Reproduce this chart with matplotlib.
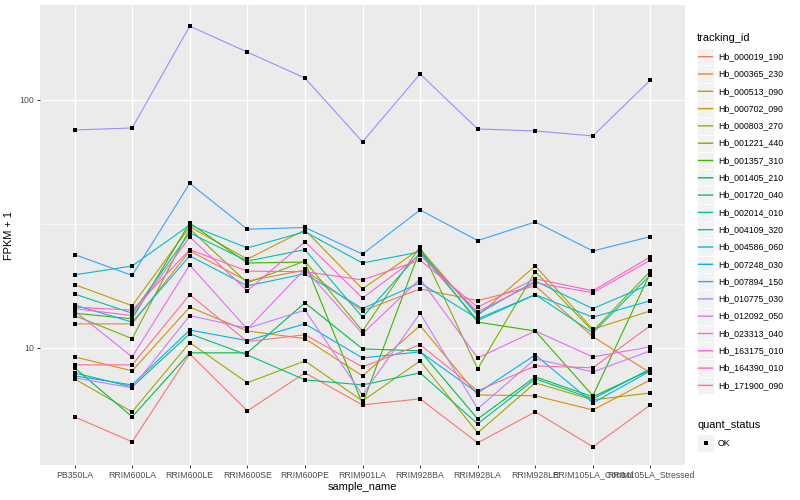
import matplotlib.pyplot as plt
from matplotlib.lines import Line2D
from matplotlib.patches import Rectangle
from matplotlib.ticker import NullLocator

plt.rcParams['font.family'] = ['Liberation Sans', 'DejaVu Sans']

samples = ['PB350LA', 'RRIM600LA', 'RRIM600LE', 'RRIM600SE', 'RRIM600PE', 'RRIM901LA',
           'RRIM928BA', 'RRIM928LA', 'RRIM928LE', 'RRIM105LA_Control', 'RRIM105LA_Stressed']

tracking_ids = ['Hb_000019_190', 'Hb_000365_230', 'Hb_000513_090', 'Hb_000702_090',
                'Hb_000803_270', 'Hb_001221_440', 'Hb_001357_310', 'Hb_001405_210',
                'Hb_001720_040', 'Hb_002014_010', 'Hb_004109_320', 'Hb_004586_060',
                'Hb_007248_030', 'Hb_007894_150', 'Hb_010775_030', 'Hb_012092_050',
                'Hb_023313_040', 'Hb_163175_010', 'Hb_164390_010', 'Hb_171900_090']

colors = ['#F8766D', '#EA8331', '#D89000', '#C09B00', '#A3A500', '#7CAE00', '#39B600',
          '#00BB4E', '#00BF7D', '#00C1A3', '#00BFC4', '#00BAE0', '#00B0F6', '#35A2FF',
          '#9590FF', '#C77CFF', '#E76BF3', '#FA62DB', '#FF62BC', '#FF6C91']

# FPKM + 1 per sample, one list per gene
hb_000019_190 = [5.27, 4.18, 9.46, 5.57, 7.93, 5.89, 6.23, 4.14, 5.52, 3.99, 5.89]
hb_000365_230 = [12.5, 12.5, 24.6, 18.6, 20.6, 14.1, 17.3, 15.5, 17.8, 11.1, 7.93]
hb_000513_090 = [9.2, 8.08, 14.6, 11.7, 10.9, 7.71, 12.3, 6.46, 6.41, 5.62, 7.43]
hb_000702_090 = [18.0, 14.8, 30.8, 22.8, 29.9, 17.3, 25.1, 13.5, 21.4, 11.9, 14.1]
hb_000803_270 = [7.5, 5.52, 10.5, 7.23, 8.86, 6.11, 8.86, 4.54, 7.23, 6.17, 6.58]
hb_001221_440 = [13.5, 10.9, 30.2, 18.3, 22.4, 11.7, 25.6, 8.23, 20.3, 11.7, 20.4]
hb_001357_310 = [13.8, 13.1, 31.9, 22.0, 22.2, 5.95, 24.9, 12.7, 11.7, 6.41, 20.1]
hb_001405_210 = [8.31, 5.27, 9.55, 9.55, 15.2, 9.91, 9.73, 5.17, 7.64, 6.35, 8.15]
hb_001720_040 = [7.93, 6.96, 11.4, 9.37, 7.43, 7.09, 7.93, 4.94, 7.5, 6.23, 8.23]
hb_002014_010 = [16.5, 13.8, 29.1, 22.4, 24.9, 13.3, 24.2, 12.9, 16.4, 11.5, 19.7]
hb_004109_320 = [19.7, 21.4, 31.3, 25.3, 29.4, 22.0, 24.4, 13.7, 18.6, 14.4, 18.1]
hb_004586_060 = [14.9, 12.7, 23.5, 17.8, 19.9, 14.4, 18.3, 13.1, 16.4, 13.3, 15.5]
hb_007248_030 = [7.71, 7.09, 11.8, 10.7, 12.5, 9.11, 9.64, 6.58, 9.37, 6.0, 8.08]
hb_007894_150 = [23.8, 19.6, 46.1, 30.1, 30.6, 23.9, 36.0, 27.1, 32.2, 24.6, 28.1]
hb_010775_030 = [75.7, 77.1, 198.6, 156.0, 122.6, 67.8, 127.3, 76.4, 75.0, 71.6, 120.4]
hb_012092_050 = [7.57, 6.9, 13.5, 12.0, 14.2, 6.46, 13.8, 5.68, 9.03, 8.0, 9.73]
hb_023313_040 = [14.1, 9.2, 21.6, 11.9, 20.8, 11.4, 19.0, 9.11, 11.7, 9.2, 10.1]
hb_163175_010 = [14.4, 13.5, 28.0, 17.0, 26.8, 15.9, 23.7, 14.0, 18.3, 16.7, 22.6]
hb_164390_010 = [14.6, 14.2, 24.9, 20.4, 20.3, 18.8, 22.6, 14.6, 19.0, 17.0, 23.3]
hb_171900_090 = [8.54, 8.54, 16.4, 10.6, 11.3, 8.38, 10.3, 6.71, 8.46, 8.31, 12.3]

series = [hb_000019_190, hb_000365_230, hb_000513_090, hb_000702_090, hb_000803_270,
          hb_001221_440, hb_001357_310, hb_001405_210, hb_001720_040, hb_002014_010,
          hb_004109_320, hb_004586_060, hb_007248_030, hb_007894_150, hb_010775_030,
          hb_012092_050, hb_023313_040, hb_163175_010, hb_164390_010, hb_171900_090]

W, H = 800, 500
fig = plt.figure(figsize=(W / 100, H / 100), dpi=100)
ax = fig.add_axes([40 / W, 35 / H, 645 / W, 460 / H])
ax.set_facecolor('#EBEBEB')
for s in ax.spines.values():
    s.set_visible(False)

x = list(range(len(samples)))
for vals, c in zip(series, colors):
    ax.plot(x, vals, color=c, lw=0.8, zorder=3)
for vals in series:
    ax.plot(x, vals, 's', color='black', ms=2.8, mew=0, zorder=4)

ax.set_yscale('log')
ax.set_ylim(3.37, 241.6)
ax.set_xlim(-0.6, len(samples) - 0.4)
ax.yaxis.set_minor_locator(NullLocator())
ax.set_yticks([10, 100])
ax.set_yticklabels(['10', '100'])
ax.set_xticks(x)
ax.set_xticklabels(samples)
ax.axhline(10 ** 1.5, color='white', lw=0.5, zorder=1)
ax.grid(True, color='white', lw=1.0, zorder=1)
ax.set_axisbelow(True)
ax.tick_params(length=2.5, width=0.7, color='#333333', labelcolor='#4D4D4D',
               labelsize=6.3, pad=1.6)

ax.set_xlabel('sample_name', fontsize=7.9, labelpad=2)
ax.set_ylabel('FPKM + 1', fontsize=7.9, labelpad=4)


def fx(px):
    return px / W


def fy(py):
    return 1 - py / H


def key_box(cy, step):
    fig.add_artist(Rectangle((fx(697), fy(cy + step / 2)), 17.3 / W, step / H,
                             transform=fig.transFigure, facecolor='#F2F2F2',
                             edgecolor='white', lw=0.6, zorder=1))


# tracking_id legend
fig.text(fx(697), fy(38), 'tracking_id', fontsize=7.9, va='center', ha='left')
step = 17.3
for i, (name, c) in enumerate(zip(tracking_ids, colors)):
    cy = 56.7 + i * step
    key_box(cy, step)
    fig.add_artist(Line2D([fx(698.5), fx(712.5)], [fy(cy), fy(cy)], color=c, lw=1.0,
                          snap=False, transform=fig.transFigure, zorder=2))
    fig.text(fx(718), fy(cy), name, fontsize=6.3, va='center', ha='left')

# quant_status legend
fig.text(fx(697), fy(425), 'quant_status', fontsize=7.9, va='center', ha='left')
key_box(443, step)
fig.add_artist(Line2D([fx(705.6)], [fy(443)], marker='s', color='black', ms=2.8, mew=0,
                      transform=fig.transFigure, zorder=2))
fig.text(fx(718), fy(443), 'OK', fontsize=6.3, va='center', ha='left')

fig.savefig('out.png', dpi=100)
